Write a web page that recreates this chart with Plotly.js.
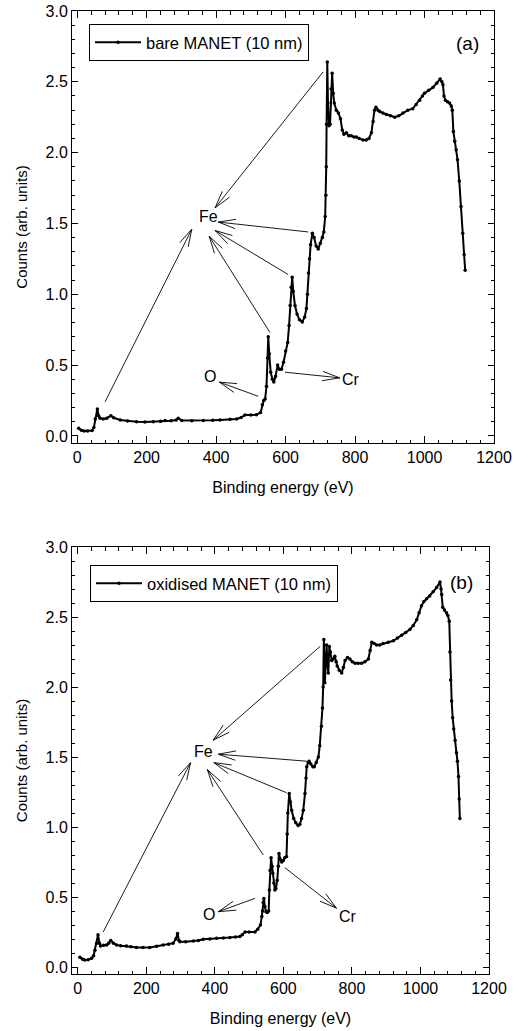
<!DOCTYPE html>
<html>
<head>
<meta charset="utf-8">
<script src="https://cdn.plot.ly/plotly-3.0.1.min.js"></script>
<style>html,body{margin:0;padding:0;background:#fff;}#chart{width:531px;height:1031px;}</style>
</head>
<body>
<div id="chart"></div>
<script>
// Panel (a): bare MANET (10 nm)
const energyA = [4,12,20,30,43,48,52,58,62,66,75,85,97,105,124,145,171,195,219,240,253,270,285,291,301,330,363,390,411,440,459,472,483,500,516,528,533,537,541,545,548,550,553,557,562,566,571,577,582,588,594,600,606,610,613,616,619,622,627,633,640,648,655,660,663,666,669,672,677,682,688,694,700,706,710,714,716,717,718,720,722,725,728,731,734,737,740,746,752,758,763,768,775,782,789,797,804,812,823,832,840,847,852,856,860,866,871,880,890,902,914,926,938,952,966,976,986,994,1000,1012,1024,1035,1045,1050,1053,1056,1060,1066,1072,1077,1080,1083,1087,1091,1095,1100,1105,1110,1114,1117];
const countsA = [0.054,0.04,0.035,0.035,0.038,0.06,0.12,0.19,0.14,0.125,0.12,0.125,0.143,0.128,0.113,0.105,0.10,0.098,0.10,0.104,0.108,0.107,0.112,0.125,0.108,0.107,0.108,0.11,0.113,0.117,0.12,0.13,0.148,0.148,0.15,0.165,0.22,0.25,0.26,0.35,0.55,0.70,0.58,0.45,0.40,0.38,0.42,0.50,0.47,0.47,0.52,0.60,0.66,0.78,0.92,1.05,1.12,1.02,0.92,0.86,0.82,0.805,0.84,0.90,1.00,1.15,1.25,1.35,1.43,1.40,1.34,1.32,1.36,1.40,1.44,1.55,1.70,1.90,2.20,2.64,2.35,2.19,2.20,2.45,2.56,2.42,2.35,2.30,2.28,2.24,2.16,2.13,2.14,2.12,2.12,2.11,2.11,2.10,2.09,2.09,2.10,2.14,2.22,2.30,2.32,2.30,2.29,2.28,2.27,2.26,2.25,2.26,2.28,2.30,2.31,2.34,2.37,2.40,2.42,2.44,2.46,2.49,2.52,2.50,2.48,2.40,2.37,2.36,2.35,2.33,2.30,2.15,2.08,2.02,1.95,1.80,1.62,1.43,1.28,1.17];

// Panel (b): oxidised MANET (10 nm)
const energyB = [6,14,20,30,40,46,50,55,59,63,66,75,84,90,96,104,113,125,142,155,171,190,210,230,249,265,278,286,291,295,298,315,337,352,366,385,405,425,444,460,473,480,488,500,517,525,533,537,539,541,543,546,549,553,557,559,561,564,567,569,572,575,578,582,585,587,591,595,600,604,609,611,613,617,620,624,630,636,643,648,653,658,663,666,668,672,675,680,686,690,696,702,706,711,714,716,718,721,724,726,729,731,734,737,741,745,750,754,757,763,770,775,780,787,794,801,809,818,828,838,848,853,858,865,872,881,891,906,921,933,945,957,969,979,989,996,1003,1010,1018,1027,1037,1047,1057,1060,1062,1065,1070,1076,1080,1084,1086,1088,1091,1094,1097,1101,1105,1108,1111,1113,1115];
const countsB = [0.069,0.055,0.05,0.052,0.062,0.08,0.12,0.17,0.23,0.17,0.15,0.155,0.157,0.17,0.19,0.17,0.157,0.152,0.15,0.145,0.14,0.14,0.14,0.148,0.157,0.163,0.17,0.20,0.24,0.19,0.18,0.18,0.185,0.19,0.198,0.20,0.205,0.207,0.21,0.215,0.217,0.23,0.25,0.25,0.25,0.27,0.30,0.36,0.40,0.46,0.49,0.43,0.395,0.39,0.40,0.55,0.69,0.78,0.72,0.67,0.60,0.55,0.56,0.62,0.72,0.81,0.77,0.75,0.76,0.78,0.79,0.95,1.10,1.24,1.18,1.12,1.06,1.03,1.01,1.02,1.06,1.12,1.24,1.35,1.43,1.46,1.47,1.45,1.43,1.43,1.46,1.50,1.58,1.72,1.85,2.00,2.34,2.03,2.20,2.30,2.15,2.10,2.29,2.25,2.19,2.20,2.22,2.18,2.15,2.12,2.10,2.14,2.19,2.21,2.20,2.18,2.17,2.17,2.17,2.18,2.20,2.26,2.32,2.31,2.30,2.30,2.31,2.32,2.33,2.35,2.37,2.39,2.41,2.44,2.48,2.53,2.58,2.61,2.63,2.65,2.68,2.71,2.75,2.70,2.66,2.57,2.55,2.53,2.51,2.47,2.25,2.05,1.90,1.78,1.70,1.62,1.53,1.47,1.36,1.20,1.06];

const xTickVals = [0,200,400,600,800,1000,1200];
const yTickVals = [0,0.5,1,1.5,2,2.5,3];

// Arrow annotations: [tail energy, tail counts, tip energy, tip counts]
const feArrowsA = [[80,0.24,330,1.46],[555,0.73,380,1.41],[607,1.14,397,1.45],[665,1.44,406,1.51],[708,2.57,397,1.61]];
const oArrowA = [521,0.28,409,0.38];
const crArrowA = [598,0.45,756,0.41];
const feArrowsB = [[74,0.25,329,1.46],[541,0.80,378,1.41],[609,1.245,397,1.46],[668,1.47,410,1.52],[707,2.29,395,1.62]];
const oArrowB = [517,0.49,410,0.395];
const crArrowB = [604,0.71,755,0.42];
// Labels: [text, energy, counts]
const labelsA = [['Fe',379,1.55],['O',382,0.42],['Cr',789,0.40]];
const labelsB = [['Fe',366,1.54],['O',383,0.376],['Cr',789,0.36]];

const W = 531, H = 1031;
const FONT = 'Liberation Sans, Arial, Helvetica, sans-serif';
const domXA = [72, 494], domYA = [11, 443];
const domXB = [72, 489], domYB = [547, 974];
const rangeXA = [-15, 1200], rangeXB = [-17, 1200], rangeY = [-0.05, 3.0];

function arrowShapes(list, xref, yref, domX, domY, rX, rY) {
  const sx = (domX[1]-domX[0])/(rX[1]-rX[0]);
  const sy = (domY[1]-domY[0])/(rY[1]-rY[0]);
  const L = 18, th = 15*Math.PI/180;
  const out = [];
  const ln = {color:'black', width:0.9};
  list.forEach(a => {
    const [tx, ty, hx, hy] = a;
    out.push({type:'line', xref, yref, x0:tx, y0:ty, x1:hx, y1:hy, line:ln});
    let dx = (tx-hx)*sx, dy = (ty-hy)*sy;
    const n = Math.hypot(dx, dy); dx/=n; dy/=n;
    [th, -th].forEach(t => {
      const wx = (Math.cos(t)*dx - Math.sin(t)*dy)*L;
      const wy = (Math.sin(t)*dx + Math.cos(t)*dy)*L;
      out.push({type:'line', xref, yref, x0:hx, y0:hy, x1:hx+wx/sx, y1:hy+wy/sy, line:ln});
    });
  });
  return out;
}

const traceA = {x:energyA, y:countsA, type:'scatter', mode:'lines+markers', name:'bare MANET (10 nm)',
  line:{color:'black', width:2}, marker:{color:'black', size:3.5}, xaxis:'x', yaxis:'y', legend:'legend'};
const traceB = {x:energyB, y:countsB, type:'scatter', mode:'lines+markers', name:'oxidised MANET (10 nm)',
  line:{color:'black', width:2}, marker:{color:'black', size:3.5}, xaxis:'x2', yaxis:'y2', legend:'legend2'};

function xaxisDef(dom, range, anchor) {
  return {domain:[dom[0]/W, dom[1]/W], range, anchor, tickvals:xTickVals, ticktext:xTickVals.map(String),
    ticks:'inside', ticklen:7, tickwidth:1, tickcolor:'black', showline:true, linecolor:'black', linewidth:1,
    mirror:'allticks', showgrid:false, zeroline:false, tickfont:{size:16, color:'black'},
    minor:{dtick:40, tick0:0, ticks:'inside', ticklen:3.5, tickcolor:'black', showgrid:false},
    title:{text:'Binding energy (eV)', font:{size:16, color:'black'}, standoff:16}};
}
function yaxisDef(dom, anchor) {
  return {domain:[1-dom[1]/H, 1-dom[0]/H], range:rangeY, anchor, tickvals:yTickVals, tickformat:'.1f',
    ticks:'inside', ticklen:6, tickwidth:1, tickcolor:'black', showline:true, linecolor:'black', linewidth:1,
    mirror:'allticks', showgrid:false, zeroline:false, tickfont:{size:16, color:'black'},
    minor:{dtick:0.1, tick0:0, ticks:'inside', ticklen:3, tickcolor:'black', showgrid:false},
    title:{text:'Counts (arb. units)', font:{size:15, color:'black'}, standoff:14}};
}

const shapes = [].concat(
  arrowShapes(feArrowsA.concat([oArrowA, crArrowA]), 'x', 'y', domXA, domYA, rangeXA, rangeY),
  arrowShapes(feArrowsB.concat([oArrowB, crArrowB]), 'x2', 'y2', domXB, domYB, rangeXB, rangeY)
);

const annotations = [];
labelsA.forEach(l => annotations.push({text:l[0], x:l[1], y:l[2], xref:'x', yref:'y', showarrow:false, font:{size:16, color:'black'}}));
labelsB.forEach(l => annotations.push({text:l[0], x:l[1], y:l[2], xref:'x2', yref:'y2', showarrow:false, font:{size:16, color:'black'}}));
annotations.push({text:'(a)', x:1124, y:2.77, xref:'x', yref:'y', showarrow:false, font:{size:19, color:'black'}});
annotations.push({text:'(b)', x:1120, y:2.75, xref:'x2', yref:'y2', showarrow:false, font:{size:19, color:'black'}});

const legendStyle = {xanchor:'left', yanchor:'top', bordercolor:'black', borderwidth:1, bgcolor:'white',
  font:{size:16.5, color:'black'}, itemclick:false, itemwidth:46};

const layout = {
  width:W, height:H, margin:{l:0, r:0, t:0, b:0}, paper_bgcolor:'white', plot_bgcolor:'white',
  font:{family:FONT, color:'black'},
  xaxis:xaxisDef(domXA, rangeXA, 'y'), yaxis:yaxisDef(domYA, 'x'),
  xaxis2:xaxisDef(domXB, rangeXB, 'y2'), yaxis2:yaxisDef(domYB, 'x2'),
  legend:Object.assign({x:89/W, y:1-24/H}, legendStyle),
  legend2:Object.assign({x:90/W, y:1-565/H}, legendStyle),
  shapes, annotations, showlegend:true
};

Plotly.newPlot('chart', [traceA, traceB], layout, {staticPlot:true});
</script>
</body>
</html>
